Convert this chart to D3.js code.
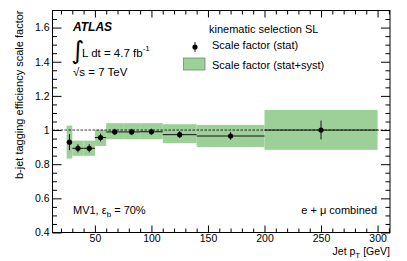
<!DOCTYPE html>
<html>
<head>
    <meta charset="utf-8">
    <style>
        body { margin: 0; background: #fff; }
        svg { display: block; font-family: "Liberation Sans", Arial, sans-serif; }
        .axis .domain { display: none; }
        .axis text { font-size: 10.5px; fill: #000; }
        .axis line { stroke: #000; }
    </style>
</head>
<body>
<svg width="407" height="261"></svg>

<script src="https://d3js.org/d3.v7.min.js"></script>
<script>
    // bins in jet pT (GeV)
    let binLow  = [25, 30, 40, 50, 60, 75, 90, 110, 140, 200]
    let binHigh = [30, 40, 50, 60, 75, 90, 110, 140, 200, 300]
    let binCenter = [27.5, 35, 45, 55, 67.5, 82.5, 100, 125, 170, 250]

    // scale factor and stat error
    let sf     = [0.929, 0.893, 0.893, 0.956, 0.989, 0.989, 0.990, 0.973, 0.965, 1.000]
    let statErr = [0.047, 0.024, 0.024, 0.023, 0.018, 0.018, 0.018, 0.020, 0.022, 0.055]

    // stat+syst band edges
    let bandLow  = [0.833, 0.849, 0.849, 0.907, 0.946, 0.946, 0.946, 0.923, 0.900, 0.884]
    let bandHigh = [1.026, 0.938, 0.938, 1.002, 1.040, 1.040, 1.040, 1.034, 1.030, 1.118]

    let xMajor = [50, 100, 150, 200, 250, 300]
    let yMajor = [0.4, 0.6, 0.8, 1.0, 1.2, 1.4, 1.6]

    let data = binLow.map((d, i) => ({
        lo: d, hi: binHigh[i], c: binCenter[i],
        sf: sf[i], err: statErr[i], bLo: bandLow[i], bHi: bandHigh[i]
    }))

    let margin = { top: 10.5, right: 17, bottom: 28.5, left: 52.5 }
    let width = 407, height = 261

    let svg = d3.select("svg")

    let x = d3.scaleLinear()
        .domain([12.5, 311])
        .range([margin.left, width - margin.right])

    let y = d3.scaleLinear()
        .domain([0.4, 1.7])
        .range([height - margin.bottom, margin.top])

    let xMinor = d3.range(20, 311, 10).filter(v => v % 50 != 0)
    let yMinor = d3.range(0.45, 1.7, 0.05).filter(v => Math.abs(v * 5 - Math.round(v * 5)) > 0.01)

    // syst bands
    svg.append("g")
        .selectAll("rect")
        .data(data)
        .join("rect")
        .attr("x", d => x(d.lo))
        .attr("y", d => y(d.bHi))
        .attr("width", d => x(d.hi) - x(d.lo))
        .attr("height", d => y(d.bLo) - y(d.bHi))
        .attr("fill", "#9dcf98")

    // line at 1
    svg.append("line")
        .attr("x1", x(12.5)).attr("x2", x(311))
        .attr("y1", y(1)).attr("y2", y(1))
        .attr("stroke", "#000")
        .attr("stroke-width", 0.8)
        .attr("stroke-dasharray", "2.5,1.5")

    // error bars
    let pts = svg.append("g").attr("stroke", "#000").attr("stroke-width", 0.9)

    pts.selectAll(".h")
        .data(data)
        .join("line")
        .attr("x1", d => x(d.lo)).attr("x2", d => x(d.hi))
        .attr("y1", d => y(d.sf)).attr("y2", d => y(d.sf))

    pts.selectAll(".v")
        .data(data)
        .join("line")
        .attr("x1", d => x(d.c)).attr("x2", d => x(d.c))
        .attr("y1", d => y(d.sf - d.err)).attr("y2", d => y(d.sf + d.err))

    svg.append("g")
        .selectAll("circle")
        .data(data)
        .join("circle")
        .attr("cx", d => x(d.c))
        .attr("cy", d => y(d.sf))
        .attr("r", 2.6)
        .attr("fill", "#000")

    // axes (ticks inward, on all four sides)
    let H = height - margin.bottom, W = width - margin.right

    svg.append("g").attr("class", "axis")
        .attr("transform", `translate(0,${H})`)
        .call(d3.axisBottom(x).tickValues(xMajor).tickSize(-7).tickPadding(2).tickFormat(d3.format("d")))
    svg.append("g").attr("class", "axis")
        .attr("transform", `translate(0,${H})`)
        .call(d3.axisBottom(x).tickValues(xMinor).tickSize(-4).tickFormat(""))
    svg.append("g").attr("class", "axis")
        .attr("transform", `translate(0,${margin.top})`)
        .call(d3.axisTop(x).tickValues(xMajor).tickSize(-7).tickFormat(""))
    svg.append("g").attr("class", "axis")
        .attr("transform", `translate(0,${margin.top})`)
        .call(d3.axisTop(x).tickValues(xMinor).tickSize(-4).tickFormat(""))

    svg.append("g").attr("class", "axis")
        .attr("transform", `translate(${margin.left},0)`)
        .call(d3.axisLeft(y).tickValues(yMajor).tickSize(-9).tickPadding(3)
            .tickFormat(d => d == 1 ? "1" : d3.format(".1f")(d)))
    svg.append("g").attr("class", "axis")
        .attr("transform", `translate(${margin.left},0)`)
        .call(d3.axisLeft(y).tickValues(yMinor).tickSize(-4.5).tickFormat(""))
    svg.append("g").attr("class", "axis")
        .attr("transform", `translate(${W},0)`)
        .call(d3.axisRight(y).tickValues(yMajor).tickSize(-9).tickFormat(""))
    svg.append("g").attr("class", "axis")
        .attr("transform", `translate(${W},0)`)
        .call(d3.axisRight(y).tickValues(yMinor).tickSize(-4.5).tickFormat(""))

    // frame
    svg.append("rect")
        .attr("x", margin.left).attr("y", margin.top)
        .attr("width", W - margin.left).attr("height", H - margin.top)
        .attr("fill", "none").attr("stroke", "#000").attr("stroke-width", 1)

    // axis titles
    let xt = svg.append("text")
        .attr("x", W).attr("y", 254.5)
        .attr("text-anchor", "end")
        .style("font-size", "10.5px")
    xt.append("tspan").text("Jet p")
    xt.append("tspan").attr("dy", 3).style("font-size", "8px").text("T")
    xt.append("tspan").attr("dy", -3).text(" [GeV]")

    svg.append("text")
        .attr("transform", `translate(22.5,${margin.top}) rotate(-90)`)
        .attr("text-anchor", "end")
        .style("font-size", "11px")
        .text("b-jet tagging efficiency scale factor")

    // ATLAS labels
    svg.append("text")
        .attr("x", 73).attr("y", 31)
        .style("font-size", "12px")
        .style("font-weight", "bold")
        .style("font-style", "italic")
        .text("ATLAS")

    svg.append("text")
        .attr("x", 71).attr("y", 59)
        .style("font-size", "25px")
        .style("font-family", "DejaVu Sans")
        .text("\u222B")

    let lumi = svg.append("text")
        .attr("x", 82).attr("y", 56.5)
        .style("font-size", "11.5px")
    lumi.append("tspan").text("L dt = 4.7 fb")
    lumi.append("tspan").attr("dy", -6).style("font-size", "8px").text("-1")

    svg.append("text")
        .attr("x", 73).attr("y", 76)
        .style("font-size", "11.5px")
        .text("\u221As = 7 TeV")

    let mv = svg.append("text")
        .attr("x", 73).attr("y", 214)
        .style("font-size", "11px")
    mv.append("tspan").text("MV1, \u03B5")
    mv.append("tspan").attr("dy", 3).style("font-size", "8px").text("b")
    mv.append("tspan").attr("dy", -3).text(" = 70%")

    svg.append("text")
        .attr("x", 377).attr("y", 213.5)
        .attr("text-anchor", "end")
        .style("font-size", "11px")
        .text("e + \u03BC combined")

    // legend
    svg.append("text")
        .attr("x", 209).attr("y", 33)
        .style("font-size", "11px")
        .text("kinematic selection SL")

    svg.append("line")
        .attr("x1", 195).attr("x2", 195).attr("y1", 42).attr("y2", 52)
        .attr("stroke", "#000").attr("stroke-width", 0.9)
    svg.append("circle")
        .attr("cx", 195).attr("cy", 47).attr("r", 2.6).attr("fill", "#000")
    svg.append("text")
        .attr("x", 212).attr("y", 49)
        .style("font-size", "11px")
        .text("Scale factor (stat)")

    svg.append("rect")
        .attr("x", 183.5).attr("y", 58).attr("width", 21.5).attr("height", 12)
        .attr("fill", "#9dcf98").attr("stroke", "#6a8f66").attr("stroke-width", 0.8)
    svg.append("text")
        .attr("x", 212).attr("y", 68.5)
        .style("font-size", "11px")
        .text("Scale factor (stat+syst)")
</script>
</body>
</html>
